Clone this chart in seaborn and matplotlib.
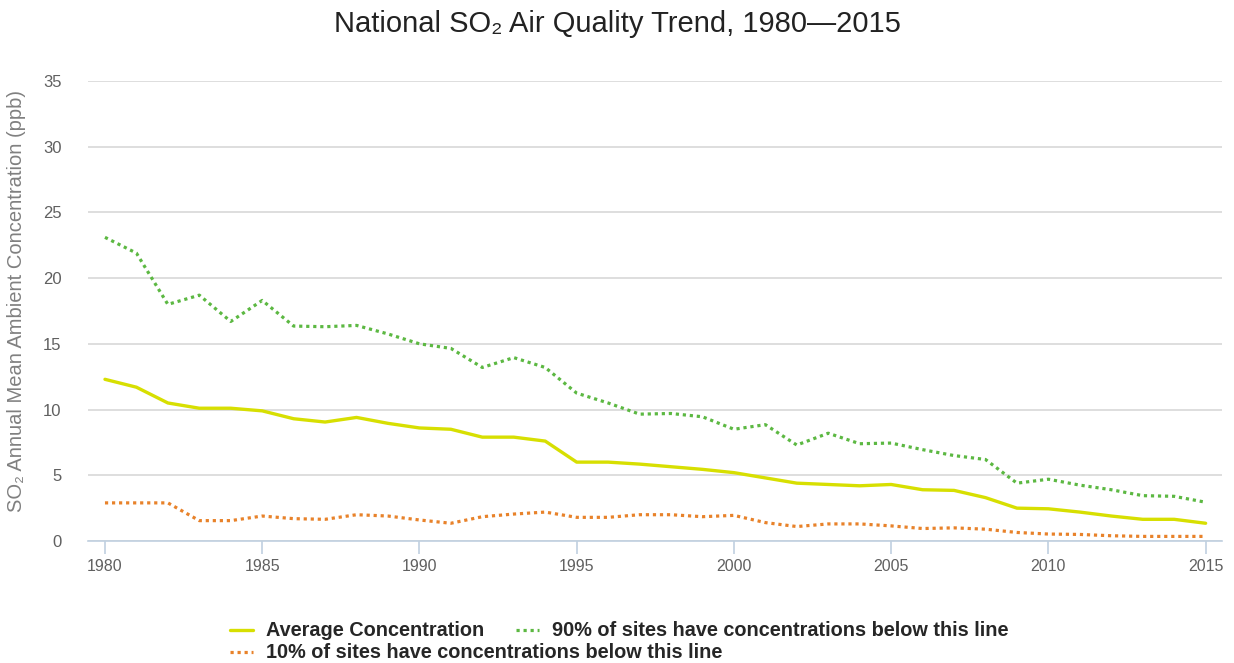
"""National SO2 air quality trend, 1980-2015."""

import matplotlib

matplotlib.use("Agg")
import matplotlib.pyplot as plt
import pandas as pd
import seaborn as sns

years = list(range(1980, 2016))

average = [
    12.3, 11.7, 10.5, 10.1, 10.1, 9.9, 9.3, 9.05, 9.4, 8.95,
    8.6, 8.5, 7.9, 7.9, 7.6, 6.0, 6.0, 5.85, 5.65, 5.45,
    5.2, 4.8, 4.4, 4.3, 4.2, 4.3, 3.9, 3.85, 3.3, 2.5,
    2.45, 2.2, 1.9, 1.65, 1.65, 1.35,
]
pct90 = [
    23.1, 21.9, 18.0, 18.7, 16.7, 18.3, 16.35, 16.3, 16.4, 15.75,
    15.0, 14.65, 13.2, 13.95, 13.2, 11.25, 10.5, 9.65, 9.7, 9.45,
    8.5, 8.85, 7.3, 8.2, 7.4, 7.45, 6.95, 6.5, 6.2, 4.4,
    4.7, 4.25, 3.9, 3.45, 3.4, 2.95,
]
pct10 = [
    2.9, 2.9, 2.9, 1.55, 1.55, 1.9, 1.7, 1.65, 2.0, 1.9,
    1.6, 1.35, 1.85, 2.05, 2.2, 1.8, 1.8, 2.0, 2.0, 1.85,
    1.95, 1.4, 1.1, 1.3, 1.3, 1.15, 0.95, 1.0, 0.9, 0.65,
    0.53, 0.5, 0.4, 0.35, 0.35, 0.35,
]

labels = [
    "Average Concentration",
    "90% of sites have concentrations below this line",
    "10% of sites have concentrations below this line",
]
colors = ["#d7df01", "#5cb842", "#e8822a"]

df = pd.DataFrame({"year": years, labels[0]: average, labels[1]: pct90, labels[2]: pct10})
long = df.melt(id_vars="year", var_name="series", value_name="ppb")

sns.set_theme(style="white")
plt.rcParams["font.family"] = ["Liberation Sans", "DejaVu Sans"]

fig = plt.figure(figsize=(12.34, 6.63), dpi=100)
ax = fig.add_axes([0.0713, 0.184, 0.9187, 0.694])

for label, color in zip(labels, colors):
    sub = long[long["series"] == label]
    dotted = label != labels[0]
    sns.lineplot(
        data=sub, x="year", y="ppb", ax=ax, color=color, label=label,
        linewidth=2.3 if dotted else 2.4,
        linestyle=(0, (1, 1.2)) if dotted else "-",
        dash_capstyle="butt", legend=False,
    )

ax.set_xlim(1979.46, 2015.51)
ax.set_ylim(0, 35)
ax.set_yticks(range(0, 36, 5))
ax.set_xticks(range(1980, 2016, 5))
ax.grid(axis="y", color="#d8d8d8", linewidth=1.2)
ax.grid(axis="x", visible=False)
for side in ["top", "right", "left"]:
    ax.spines[side].set_visible(False)
ax.spines["bottom"].set_color("#c0d0e0")
ax.spines["bottom"].set_linewidth(1.2)
ax.tick_params(axis="x", bottom=True, length=9, width=1.2, color="#c0d0e0",
               labelsize=11.5, labelcolor="#606060", pad=4)
ax.tick_params(axis="y", left=False, labelsize=12, labelcolor="#606060", pad=13)

ax.set_xlabel("")
ax.set_ylabel("SO\u2082 Annual Mean Ambient Concentration (ppb)", fontsize=14.5,
              color="#808080")
ax.yaxis.set_label_coords(-0.0545, 0.522)
fig.suptitle("National SO\u2082 Air Quality Trend, 1980\u20142015", fontsize=21,
             color="#222222", y=0.985)

lines = ax.get_lines()
leg_kw = dict(
    frameon=False, handlelength=1.15, handletextpad=0.65, borderpad=0,
    borderaxespad=0, bbox_transform=fig.transFigure,
    prop={"size": 14.3, "weight": "bold"},
)
row1 = ax.legend([lines[0], lines[1]], labels[:2], loc="center left",
                 bbox_to_anchor=(230 / 1234, 1 - 631 / 663), ncol=2,
                 columnspacing=1.6, **leg_kw)
ax.add_artist(row1)
ax.legend([lines[2]], [labels[2]], loc="center left",
          bbox_to_anchor=(230 / 1234, 1 - 653 / 663), **leg_kw)

fig.savefig("out.png", dpi=100)
